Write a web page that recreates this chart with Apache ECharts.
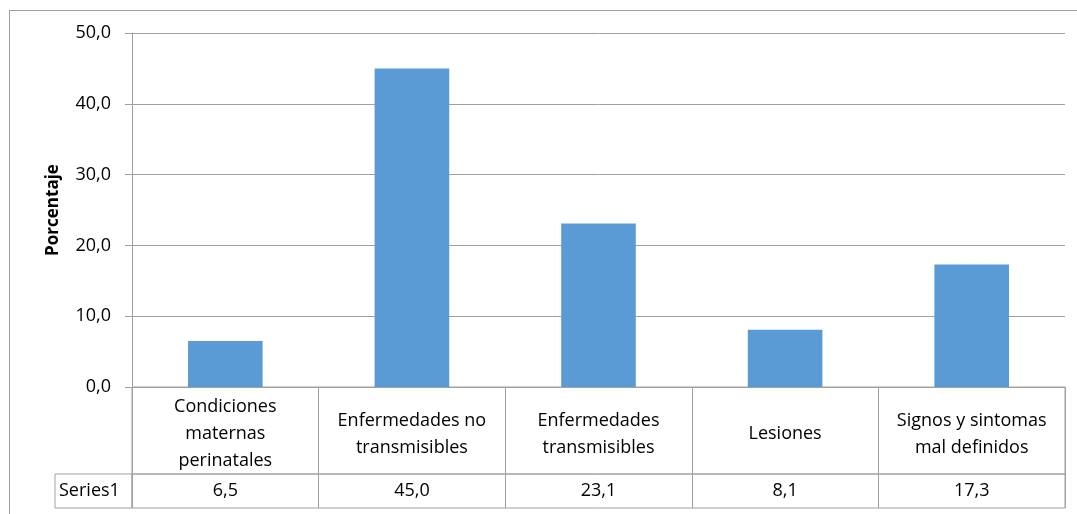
<!DOCTYPE html>
<html>
<head>
<meta charset="utf-8">
<script src="https://cdn.jsdelivr.net/npm/echarts@6/dist/echarts.min.js"></script>
<style>
  html, body { margin: 0; padding: 0; background: #fff; }
  .frame {
    position: absolute; left: 9px; top: 10px; width: 1080px; height: 520px;
    border-left: 1px solid #a0a0a0; border-top: 1px solid #a0a0a0;
  }
  .chart { position: absolute; left: 0; top: 0; width: 1077px; height: 514px; }
</style>
</head>
<body>
<div class="frame"></div>
<div class="chart" id="chart"></div>
<script>
// datos
const categories = [
  "Condiciones\nmaternas\nperinatales",
  "Enfermedades no\ntransmisibles",
  "Enfermedades\ntransmisibles",
  "Lesiones",
  "Signos y sintomas\nmal definidos",
];
const values = [6.5, 45.0, 23.1, 8.1, 17.3];
const seriesName = "Series1";
const yTitle = "Porcentaje";

const lineColor = "#a0a0a0";
const textColor = "#000";
const font = "'Open Sans', 'Noto Sans', sans-serif";
const fmt = (v) => Number(v).toFixed(1).replace(".", ",");

const chart = echarts.init(document.getElementById("chart"), null, { renderer: "canvas" });

const option = {
  backgroundColor: "transparent",
  animation: false,
  textStyle: { fontFamily: font, color: textColor },
  grid: [
    // grafico
    { left: 132, top: 33, width: 933, height: 354 },
    // fila de categorias
    { left: 132, top: 387, width: 933, height: 87, show: true, borderColor: lineColor, borderWidth: 1 },
    // fila de valores
    { left: 132, top: 474, width: 933, height: 34, show: true, borderColor: lineColor, borderWidth: 1 },
    // celda de la serie
    { left: 55, top: 474, width: 77, height: 34, show: true, borderColor: lineColor, borderWidth: 1 },
  ],
  xAxis: [
    {
      gridIndex: 0,
      type: "category",
      data: categories,
      axisLine: { lineStyle: { color: lineColor } },
      axisTick: { show: false },
      axisLabel: {
        interval: 0,
        margin: 47,
        verticalAlign: "middle",
        lineHeight: 27,
        fontSize: 18,
        color: textColor,
        fontFamily: font,
      },
    },
    {
      gridIndex: 1,
      type: "category",
      data: categories,
      axisLine: { show: false },
      axisTick: { show: false },
      axisLabel: { show: false },
      splitLine: { show: true, interval: 0, lineStyle: { color: lineColor } },
    },
    {
      gridIndex: 2,
      type: "category",
      data: values.map(fmt),
      axisLine: { show: false },
      axisTick: { show: false },
      axisLabel: {
        inside: true,
        interval: 0,
        margin: 17,
        verticalAlign: "middle",
        fontSize: 18,
        color: textColor,
        fontFamily: font,
      },
      splitLine: { show: true, interval: 0, lineStyle: { color: lineColor } },
    },
    {
      gridIndex: 3,
      type: "value",
      show: false,
    },
  ],
  yAxis: [
    {
      gridIndex: 0,
      type: "value",
      min: 0,
      max: 50,
      interval: 10,
      name: yTitle,
      nameLocation: "middle",
      nameGap: 70,
      nameTextStyle: { fontSize: 17, fontWeight: "bold", color: textColor, fontFamily: font },
      axisLine: { show: true, lineStyle: { color: lineColor } },
      axisTick: { show: true, length: 7, lineStyle: { color: lineColor } },
      axisLabel: { formatter: fmt, margin: 21, fontSize: 18, color: textColor, fontFamily: font },
      splitLine: { show: true, lineStyle: { color: lineColor } },
    },
    { gridIndex: 1, type: "value", show: false },
    { gridIndex: 2, type: "value", show: false },
    {
      gridIndex: 3,
      type: "category",
      data: [seriesName],
      axisLine: { show: false },
      axisTick: { show: false },
      splitLine: { show: false },
      axisLabel: {
        inside: true,
        margin: 4,
        fontSize: 18,
        color: textColor,
        fontFamily: font,
      },
    },
  ],
  series: [
    {
      name: seriesName,
      type: "bar",
      xAxisIndex: 0,
      yAxisIndex: 0,
      data: values,
      barWidth: "40%",
      itemStyle: { color: "#5b9bd5" },
    },
  ],
};

chart.setOption(option);
</script>
</body>
</html>
